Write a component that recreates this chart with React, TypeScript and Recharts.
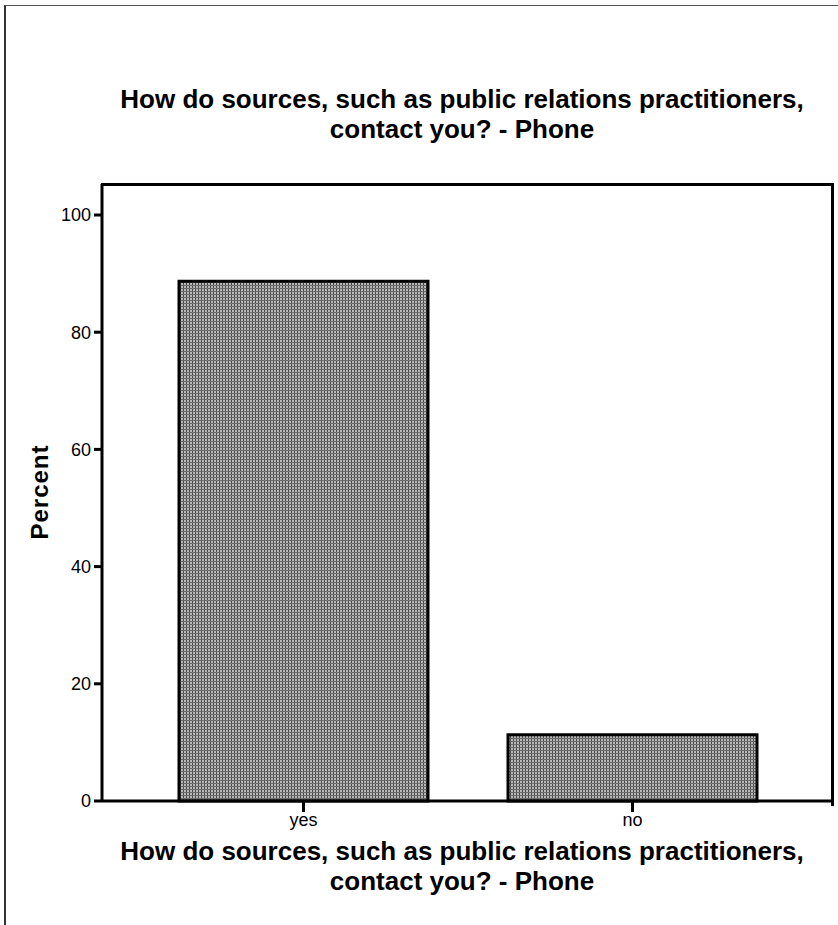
import { BarChart, Bar, XAxis, YAxis } from "recharts";

const categories = ["yes", "no"];
const percents = [88.7, 11.3];
const yTicks = [0, 20, 40, 60, 80, 100];

const titleLines = [
  "How do sources, such as public relations practitioners,",
  "contact you? - Phone",
];

const data = categories.map((c, i) => ({ name: c, value: percents[i] }));

const font = "'Liberation Sans', Arial, sans-serif";

const textBlock = (top: number): React.CSSProperties => ({
  position: "absolute",
  left: 0,
  top,
  width: 924,
  textAlign: "center",
  fontFamily: font,
  fontWeight: "bold",
  fontSize: 26,
  lineHeight: "30px",
  color: "#000",
});

export default function App() {
  return (
    <div
      style={{
        position: "absolute",
        left: 0,
        top: 0,
        width: 838,
        height: 925,
        background: "#fff",
        overflow: "hidden",
      }}
    >
      {/* scanned page border */}
      <div
        style={{
          position: "absolute",
          left: 4,
          top: 5,
          width: 850,
          height: 940,
          borderLeft: "2px solid #333",
          borderTop: "1px solid #555",
        }}
      />

      <div style={textBlock(84)}>
        <div>{titleLines[0]}</div>
        <div>{titleLines[1]}</div>
      </div>

      {/* top and right edges of the plot frame */}
      <div
        style={{
          position: "absolute",
          left: 101,
          top: 183,
          width: 730,
          height: 620,
          borderTop: "3px solid #000",
          borderRight: "3px solid #000",
        }}
      />

      <div style={{ position: "absolute", left: 0, top: 0 }}>
        <BarChart
          width={838}
          height={925}
          data={data}
          margin={{ top: 184, right: 6, bottom: 94, left: 0 }}
          barSize={249}
        >
          <defs>
            <pattern id="scanFill" width="3" height="3" patternUnits="userSpaceOnUse">
              <rect width="3" height="3" fill="#b8b8b8" />
              <rect width="1" height="3" fill="#4a4a4a" />
              <rect width="3" height="1" fill="#6a6a6a" />
            </pattern>
          </defs>
          <XAxis
            dataKey="name"
            padding={{ left: 37, right: 35 }}
            axisLine={{ stroke: "#000", strokeWidth: 3 }}
            tickLine={{ stroke: "#000", strokeWidth: 3 }}
            tickSize={11}
            tickMargin={1}
            tick={{ fill: "#000", fontSize: 18, fontFamily: font }}
            height={30}
          />
          <YAxis
            domain={[0, 100]}
            ticks={yTicks}
            padding={{ top: 31, bottom: 0 }}
            width={102}
            axisLine={{ stroke: "#000", strokeWidth: 3 }}
            tickLine={{ stroke: "#000", strokeWidth: 3 }}
            tickSize={8}
            tickMargin={3}
            tick={{ fill: "#000", fontSize: 18, fontFamily: font }}
          />
          <Bar
            dataKey="value"
            fill="url(#scanFill)"
            stroke="#000"
            strokeWidth={3}
            isAnimationActive={false}
          />
        </BarChart>
      </div>

      <div
        style={{
          position: "absolute",
          left: 40,
          top: 492,
          transform: "translate(-50%, -50%) rotate(-90deg)",
          fontFamily: font,
          fontWeight: "bold",
          fontSize: 24,
          letterSpacing: 1,
          whiteSpace: "nowrap",
        }}
      >
        Percent
      </div>

      <div style={textBlock(836)}>
        <div>{titleLines[0]}</div>
        <div>{titleLines[1]}</div>
      </div>
    </div>
  );
}
